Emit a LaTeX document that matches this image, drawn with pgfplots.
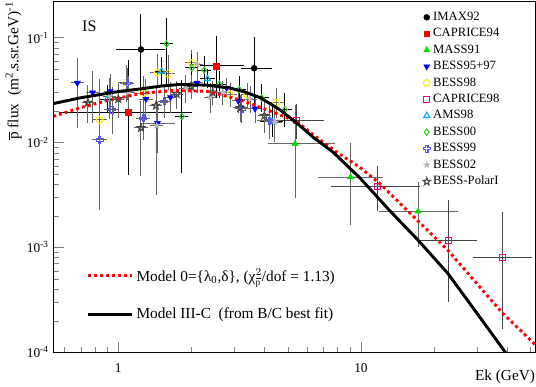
\documentclass[border=0pt]{standalone}
\usepackage{fontspec}
\setmainfont{Liberation Serif}
\usepackage{pgfplots}
\pgfplotsset{compat=1.18}
\definecolor{massgreen}{HTML}{00E000}
\definecolor{bessgreen}{HTML}{33CC33}
\definecolor{bessblue}{HTML}{5555EE}
\definecolor{ebgray}{HTML}{666666}
\definecolor{lgray}{HTML}{BBBBBB}
\definecolor{dgray}{HTML}{444444}

% ROOT-like open cross and stars
\pgfdeclareplotmark{opencross}{%
  \pgfpathmoveto{\pgfpoint{-0.35\pgfplotmarksize}{\pgfplotmarksize}}%
  \pgfpathlineto{\pgfpoint{0.35\pgfplotmarksize}{\pgfplotmarksize}}%
  \pgfpathlineto{\pgfpoint{0.35\pgfplotmarksize}{0.35\pgfplotmarksize}}%
  \pgfpathlineto{\pgfpoint{\pgfplotmarksize}{0.35\pgfplotmarksize}}%
  \pgfpathlineto{\pgfpoint{\pgfplotmarksize}{-0.35\pgfplotmarksize}}%
  \pgfpathlineto{\pgfpoint{0.35\pgfplotmarksize}{-0.35\pgfplotmarksize}}%
  \pgfpathlineto{\pgfpoint{0.35\pgfplotmarksize}{-\pgfplotmarksize}}%
  \pgfpathlineto{\pgfpoint{-0.35\pgfplotmarksize}{-\pgfplotmarksize}}%
  \pgfpathlineto{\pgfpoint{-0.35\pgfplotmarksize}{-0.35\pgfplotmarksize}}%
  \pgfpathlineto{\pgfpoint{-\pgfplotmarksize}{-0.35\pgfplotmarksize}}%
  \pgfpathlineto{\pgfpoint{-\pgfplotmarksize}{0.35\pgfplotmarksize}}%
  \pgfpathlineto{\pgfpoint{-0.35\pgfplotmarksize}{0.35\pgfplotmarksize}}%
  \pgfpathclose\pgfusepathqstroke}
\def\starpath{%
  \pgfpathmoveto{\pgfpoint{0pt}{\pgfplotmarksize}}%
  \pgfpathlineto{\pgfpoint{-0.235\pgfplotmarksize}{0.324\pgfplotmarksize}}%
  \pgfpathlineto{\pgfpoint{-0.951\pgfplotmarksize}{0.309\pgfplotmarksize}}%
  \pgfpathlineto{\pgfpoint{-0.380\pgfplotmarksize}{-0.124\pgfplotmarksize}}%
  \pgfpathlineto{\pgfpoint{-0.588\pgfplotmarksize}{-0.809\pgfplotmarksize}}%
  \pgfpathlineto{\pgfpoint{0pt}{-0.4\pgfplotmarksize}}%
  \pgfpathlineto{\pgfpoint{0.588\pgfplotmarksize}{-0.809\pgfplotmarksize}}%
  \pgfpathlineto{\pgfpoint{0.380\pgfplotmarksize}{-0.124\pgfplotmarksize}}%
  \pgfpathlineto{\pgfpoint{0.951\pgfplotmarksize}{0.309\pgfplotmarksize}}%
  \pgfpathlineto{\pgfpoint{0.235\pgfplotmarksize}{0.324\pgfplotmarksize}}%
  \pgfpathclose}
\pgfdeclareplotmark{fstar}{\starpath\pgfusepathqfillstroke}
\pgfdeclareplotmark{ostar}{\starpath\pgfusepathqstroke}

\pgfplotsset{
  /pgfplots/table/tb/.style={x=x, y=y, x error minus=xm, x error plus=xp, y error minus=ym, y error plus=yp},
}

\begin{document}
\begin{tikzpicture}
\path[use as bounding box] (-40pt,-25.3pt) rectangle (362pt,264.2pt);
\begin{axis}[
    scale only axis, width=361.5pt, height=263.25pt,
    at={(0pt,0pt)}, anchor=south west,
    xmode=log, ymode=log,
    xmin=0.54, xmax=52.3, ymin=1e-4, ymax=0.222,
    axis line style={line width=0.6pt},
    tick pos=left,
    tick align=inside,
    major tick length=8pt, minor tick length=4.3pt,
    xtick={1,10}, xticklabels={1,10},
    minor xtick={0.6,0.7,0.8,0.9,2,3,4,5,6,7,8,9,20,30,40,50},
    ytick={1e-4,1e-3,1e-2,1e-1},
    yticklabels={10\textsuperscript{-4},10\textsuperscript{-3},10\textsuperscript{-2},10\textsuperscript{-1}},
    tick label style={font=\fontsize{10}{12}\selectfont},
    xticklabel style={yshift=-5pt},
    xlabel={Ek (GeV)},
    xlabel style={at={(axis description cs:1,0)}, anchor=north east, yshift=-13pt, inner sep=0pt, font=\fontsize{11.5}{13}\selectfont},
    ylabel={$\overline{\hbox{p}}$ flux\ \ (m\textsuperscript{2}.s.sr.GeV)\textsuperscript{-1}},
    ylabel style={at={(axis description cs:-0.065,1)}, anchor=south east, inner sep=0pt, font=\fontsize{11.5}{13}\selectfont},
    legend style={at={(axis description cs:0.758,0.985)}, anchor=north west, draw=none, fill=none,
      font=\fontsize{9.5}{11}\selectfont, row sep=0.5pt},
    legend cell align=left,
    error bars/x dir=both, error bars/x explicit,
    error bars/y dir=both, error bars/y explicit,
    error bars/error bar style={line width=0.7pt, ebgray},
    error bars/error mark options={mark size=1.5pt, line width=0.7pt, ebgray},
  ]
\addplot[only marks, mark=*, mark size=2.2pt, black,
    error bars/error bar style={line width=0.7pt, black},
    error bars/error mark options={mark size=1.5pt, line width=0.7pt, black}] table[tb] {
x y xm xp ym yp
1.24 0.077 0.24 0.29 0.046 0.083
3.63 0.051 0.36 0.57 0.0295 0.047
};
\addlegendentry{IMAX92}
\addplot[only marks, mark=square*, mark size=2.2pt, red,
    error bars/error bar style={line width=0.7pt, black},
    error bars/error mark options={mark size=1.5pt, line width=0.7pt, black}] table[tb] {
x y xm xp ym yp
1.10 0.0193 0.52 0.88 0.0142 0.039
2.53 0.0537 0.32 0.70 0.026 0.046
};
\addlegendentry{CAPRICE94}
\addplot[only marks, mark=triangle*, mark size=2.6pt, massgreen] table[tb] {
x y xm xp ym yp
5.35 0.0097 1.15 2.32 0.0066 0.012
9.06 0.00468 2.28 3.04 0.00299 0.0047
17.2 0.0022 5.1 7.4 0.00114 0.00185
};
\addlegendentry{MASS91}
\addplot[only marks, mark=triangle*, mark options={rotate=180}, mark size=2.6pt, blue] table[tb] {
x y xm xp ym yp
0.678 0.037 0.03 0.03 0.0227 0.0247
0.784 0.0299 0.035 0.035 0.0137 0.0156
0.927 0.0308 0.04 0.04 0.010 0.012
1.30 0.026 0.06 0.06 0.008 0.013
1.45 0.0153 0.18 0.23 0.007 0.008
1.64 0.027 0.07 0.07 0.007 0.009
2.11 0.037 0.09 0.09 0.006 0.007
2.80 0.0332 0.12 0.12 0.005 0.006
3.12 0.025 0.13 0.13 0.005 0.006
3.66 0.021 0.16 0.16 0.005 0.006
};
\addlegendentry{BESS95+97}
\addplot[only marks, mark=o, mark size=2.5pt, yellow, thick] table[tb] {
x y xm xp ym yp
0.838 0.0164 0.04 0.04 0.006 0.012
1.08 0.0373 0.05 0.05 0.012 0.015
1.27 0.0295 0.06 0.06 0.010 0.012
1.45 0.0464 0.07 0.07 0.012 0.020
1.61 0.0451 0.07 0.07 0.012 0.020
2.01 0.0574 0.09 0.09 0.012 0.015
2.89 0.0287 0.13 0.13 0.006 0.007
3.40 0.0284 0.15 0.15 0.006 0.007
4.47 0.0239 0.3 0.3 0.006 0.008
};
\addlegendentry{BESS98}
\addplot[only marks, mark=square, mark size=2.2pt, magenta, thick,
    error bars/error bar style={line width=0.7pt, dgray},
    error bars/error mark options={mark size=1.5pt, line width=0.7pt, dgray}] table[tb] {
x y xm xp ym yp
5.44 0.0162 1.0 1.5 0.005 0.006
11.7 0.00381 4.04 5.5 0.00148 0.00194
22.9 0.00117 5.4 6.7 0.000856 0.00153
38.3 0.000797 8.8 11.5 0.000622 0.00127
};
\addlegendentry{CAPRICE98}
\addplot[only marks, mark=triangle, mark size=2.6pt, cyan, thick,
    error bars/error bar style={line width=0.7pt, black},
    error bars/error mark options={mark size=1.5pt, line width=0.7pt, black}] table[tb] {
x y xm xp ym yp
0.90 0.026 0.05 0.05 0.006 0.008
1.51 0.0478 0.08 0.08 0.012 0.015
2.33 0.0404 0.12 0.12 0.006 0.008
4.30 0.0158 0.4 0.4 0.004 0.005
};
\addlegendentry{AMS98}
\addplot[only marks, mark=diamond, mark size=2.4pt, bessgreen, thick,
    error bars/error bar style={line width=0.7pt, black},
    error bars/error mark options={mark size=1.5pt, line width=0.7pt, black}] table[tb] {
x y xm xp ym yp
1.58 0.087 0.07 0.07 0.05 0.06
1.83 0.0177 0.08 0.08 0.0123 0.02
2.01 0.0514 0.09 0.09 0.012 0.015
2.26 0.049 0.1 0.1 0.012 0.015
2.61 0.036 0.12 0.12 0.008 0.010
3.15 0.032 0.14 0.14 0.007 0.009
3.90 0.0266 0.2 0.2 0.006 0.008
4.86 0.0206 0.25 0.25 0.006 0.008
};
\addlegendentry{BESS00}
\addplot[only marks, mark=opencross, mark size=2.6pt, bessblue, thick] table[tb] {
x y xm xp ym yp
0.838 0.0106 0.04 0.04 0.0082 0.028
0.942 0.0206 0.05 0.05 0.008 0.012
1.09 0.0367 0.05 0.05 0.010 0.012
1.27 0.017 0.06 0.06 0.006 0.008
1.55 0.0247 0.07 0.07 0.007 0.010
3.23 0.0209 0.15 0.15 0.005 0.006
4.19 0.0162 0.4 0.4 0.005 0.006
};
\addlegendentry{BESS99}
\addplot[only marks, mark=fstar, mark size=2.4pt, lgray] table[tb] {
x y xm xp ym yp
0.92 0.0276 0.04 0.04 0.010 0.012
1.10 0.030 0.05 0.05 0.009 0.011
1.44 0.0145 0.06 0.06 0.0112 0.010
1.90 0.033 0.08 0.08 0.008 0.009
2.11 0.056 0.09 0.09 0.012 0.014
2.39 0.027 0.1 0.1 0.007 0.008
2.70 0.030 0.12 0.12 0.006 0.007
3.50 0.026 0.15 0.15 0.006 0.007
4.42 0.0156 0.2 0.2 0.005 0.006
};
\addlegendentry{BESS02}
\addplot[only marks, mark=ostar, mark size=3pt, dgray, thick] table[tb] {
x y xm xp ym yp
0.75 0.024 0.03 0.03 0.008 0.010
1.00 0.026 0.04 0.04 0.008 0.010
1.24 0.0138 0.06 0.06 0.0088 0.010
1.43 0.0225 0.06 0.06 0.007 0.009
1.74 0.029 0.08 0.08 0.007 0.008
2.00 0.034 0.09 0.09 0.007 0.008
2.45 0.030 0.11 0.11 0.006 0.007
3.18 0.0214 0.14 0.14 0.005 0.006
4.00 0.018 0.18 0.18 0.005 0.006
};
\addlegendentry{BESS-PolarI}
\node[font=\fontsize{12}{14}\selectfont] at (axis cs:0.76,0.127) {IS};
\end{axis}

\begin{axis}[
    scale only axis, width=361.5pt, height=263.25pt,
    at={(0pt,0pt)}, anchor=south west,
    xmode=log, ymode=log,
    xmin=0.54, xmax=52.3, ymin=1e-4, ymax=0.222,
    hide axis,
    legend style={at={(axis description cs:0.06,0.255)}, anchor=north west, draw=none, fill=none,
      font=\fontsize{11.5}{13}\selectfont, row sep=14.5pt},
    legend image post style={xscale=1.95},
    legend cell align=left,
  ]
\addplot[red, line width=2.2pt, dash pattern=on 2.2pt off 2.3pt, no marks] coordinates {
(0.54,0.0177) (0.7,0.0215) (0.9,0.0251) (1.23,0.0293) (1.68,0.0313) (2.32,0.0308)
(3.18,0.0255) (4.34,0.0195) (5.44,0.0158) (6.56,0.0112) (8,0.0080) (9.9,0.0058)
(11.97,0.00405) (16,0.0021) (22.8,0.00094) (30,0.000453) (38.4,0.000235) (52.3,0.000118)
};
\addlegendentry{Model 0=\{λ\textsubscript{0},δ\}, (χ$^{2}_{\overline{\hbox{\scriptsize p}}}$/dof = 1.13)}
\addplot[black, line width=2.2pt, no marks] coordinates {
(0.54,0.0235) (0.7,0.0267) (1.0,0.0306) (1.23,0.0324) (1.5,0.0345) (1.8,0.0358)
(2.32,0.0352) (2.89,0.0330) (3.3,0.0305) (3.84,0.0268) (4.64,0.0205) (5.5,0.0150)
(6.36,0.0112) (7.67,0.0081) (9.9,0.0046) (13,0.0023) (17.2,0.00117) (22.8,0.000565)
(30,0.000237) (39.1,0.000102) (42,0.000083)
};
\addlegendentry{Model III-C\ \ (from B/C best fit)}
\end{axis}
\end{tikzpicture}
\end{document}
